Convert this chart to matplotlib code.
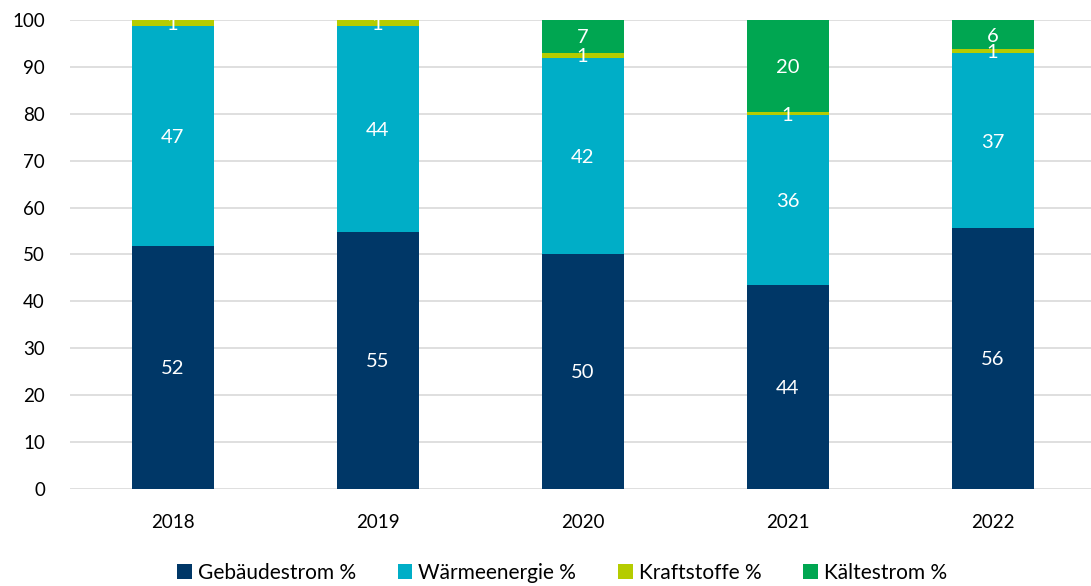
import matplotlib
matplotlib.use("Agg")
import matplotlib.pyplot as plt
import numpy as np

years = ["2018", "2019", "2020", "2021", "2022"]
gebaeudestrom = [51.9, 54.9, 50.2, 43.6, 55.7]
waermeenergie = [46.8, 43.8, 41.8, 36.1, 37.2]
kraftstoffe = [1.3, 1.3, 1.0, 0.6, 0.9]
kaeltestrom = [0.0, 0.0, 7.0, 19.7, 6.2]

series = [
    ("Gebäudestrom %", gebaeudestrom, "#003767"),
    ("Wärmeenergie %", waermeenergie, "#00aec7"),
    ("Kraftstoffe %", kraftstoffe, "#b5cc00"),
    ("Kältestrom %", kaeltestrom, "#00a651"),
]

plt.rcParams['font.family'] = ['Lato', 'DejaVu Sans']

fig = plt.figure(figsize=(10.91, 5.86), dpi=100)
ax = fig.add_axes([70/1091, 1 - 489/586, 1025/1091, 469/586])

x = np.arange(len(years))
bottom = np.zeros(len(years))
for name, vals, color in series:
    vals = np.array(vals)
    ax.bar(x, vals, 0.4, bottom=bottom, color=color, label=name, zorder=3)
    for xi, v, b in zip(x, vals, bottom):
        if v > 0:
            ax.text(xi, b + v / 2, f"{v:.0f}", ha="center", va="center_baseline",
                    color="white", fontsize=14.5, zorder=4)
    bottom += vals

ax.set_xlim(-0.5, 4.5)
ax.set_ylim(0, 100)
ax.set_yticks(range(0, 101, 10))
ax.set_xticks(x)
ax.set_xticklabels(years)
ax.tick_params(axis="both", length=0, labelsize=13.5, colors="#000000")
ax.tick_params(axis="y", pad=18)
ax.tick_params(axis="x", pad=18)
ax.yaxis.grid(True, color="#d9d9d9", linewidth=1.2, zorder=0)
for s in ax.spines.values():
    s.set_visible(False)

handles, labels = ax.get_legend_handles_labels()
fig.legend(handles, labels, loc="center", bbox_to_anchor=(562/1091, 1 - 573/586),
           ncol=4, frameon=False, fontsize=15, handlelength=0.7, handleheight=0.7,
           handletextpad=0.3, columnspacing=2.0, borderaxespad=0, borderpad=0)

fig.savefig("out.png", dpi=100)
